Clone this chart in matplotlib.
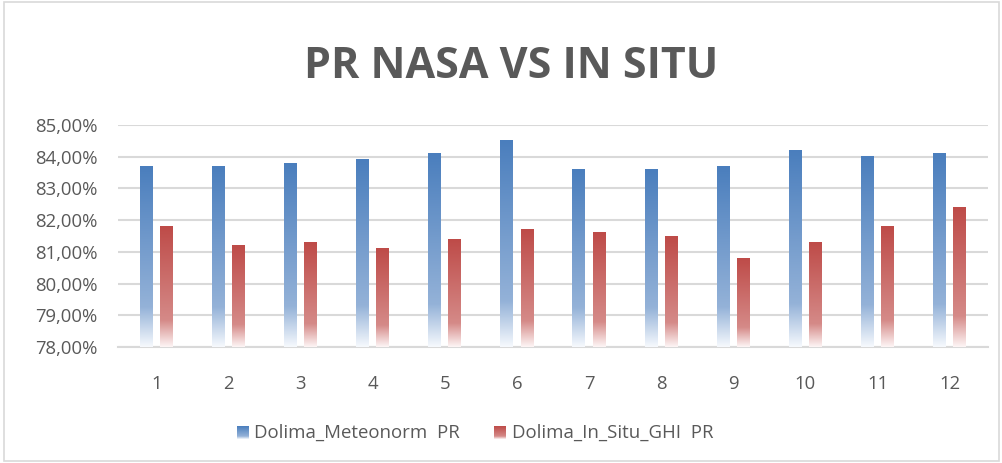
import numpy as np
import matplotlib
matplotlib.use("Agg")
import matplotlib.pyplot as plt
from matplotlib.colors import LinearSegmentedColormap
from matplotlib.patches import Rectangle

categories = ["1", "2", "3", "4", "5", "6", "7", "8", "9", "10", "11", "12"]
meteonorm_pr = [83.7, 83.7, 83.8, 83.9, 84.1, 84.5, 83.6, 83.6, 83.7, 84.2, 84.0, 84.1]
insitu_pr = [81.8, 81.2, 81.3, 81.1, 81.4, 81.7, 81.6, 81.5, 80.8, 81.3, 81.8, 82.4]
series_names = ["Dolima_Meteonorm  PR", "Dolima_In_Situ_GHI  PR"]
yticks = [78, 79, 80, 81, 82, 83, 84, 85]

blue_cmap = LinearSegmentedColormap.from_list(
    "b", [(0, "#F6F9FD"), (0.22, "#94B2D8"), (1.0, "#4A7EBD")])
red_cmap = LinearSegmentedColormap.from_list(
    "r", [(0, "#FDF5F5"), (0.22, "#D58A88"), (1.0, "#BE4B48")])

plt.rcParams['font.family'] = ['Open Sans', 'DejaVu Sans']
fig = plt.figure(figsize=(10.03, 4.63), dpi=100)
fig.patches.append(Rectangle((0.004, 0.004), 0.992, 0.992, transform=fig.transFigure,
                             fill=False, edgecolor="#D9D9D9", linewidth=1.2))

ax = fig.add_axes([118/1003, (463-347)/463, (988-118)/1003, (347-125)/463])
ymin, ymax = 78, 85

grad = np.linspace(0, 1, 256).reshape(-1, 1)
w = 0.18
off = 0.14
x = np.arange(1, len(categories) + 1)
for xi, v in zip(x, meteonorm_pr):
    ax.imshow(grad, cmap=blue_cmap, origin="lower", aspect="auto",
              extent=[xi - off - w/2, xi - off + w/2, ymin, v], zorder=3)
for xi, v in zip(x, insitu_pr):
    ax.imshow(grad, cmap=red_cmap, origin="lower", aspect="auto",
              extent=[xi + off - w/2, xi + off + w/2, ymin, v], zorder=3)
ax.set_xlim(0.47, 12.53)
ax.set_ylim(ymin, ymax)

ax.set_yticks(yticks)
ax.set_yticklabels([f"{t:.2f}".replace(".", ",") + "%" for t in yticks])
ax.set_xticks(x)
ax.set_xticklabels(categories)
ax.grid(axis="y", color="#D9D9D9", linewidth=1.5, zorder=0)
ax.set_axisbelow(True)
for s in ["top", "right", "left"]:
    ax.spines[s].set_visible(False)
ax.spines["bottom"].set_color("#D9D9D9")
ax.spines["bottom"].set_linewidth(1.5)
ax.tick_params(axis="both", length=0, labelsize=13.3, colors="#595959")
ax.tick_params(axis="y", pad=15)
ax.tick_params(axis="x", pad=20)

fig.text(511/1003, 1 - 67/463, "PR NASA VS IN SITU", ha="center", va="center",
         fontsize=31, fontweight="bold", color="#595959")

# legend
for (x0, cmap, xt), name in zip([(237, blue_cmap, 254), (494, red_cmap, 512)], series_names):
    lax = fig.add_axes([x0/1003, (463-439)/463, 12/1003, 13/463])
    lax.imshow(grad, cmap=cmap, origin="lower", aspect="auto", extent=[0, 1, 0, 1])
    lax.axis("off")
    fig.text(xt/1003, 1 - 433/463, name, ha="left", va="center",
             fontsize=13.4, color="#595959")

fig.savefig("out.png", dpi=100)
